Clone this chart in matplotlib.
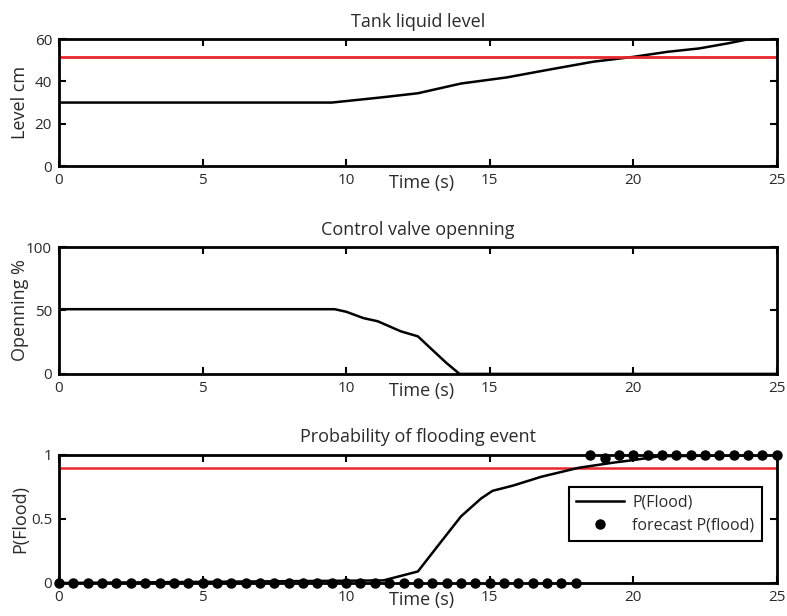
import matplotlib.pyplot as plt

plt.rcParams['font.family'] = ['Open Sans', 'DejaVu Sans']

# tank level (cm)
level_t = [0, 9.5, 11.2, 12.5, 14.0, 15.6, 17.0, 18.6, 20.0, 21.2, 22.3, 23.3, 24.0, 25]
level_v = [30, 30, 32.4, 34.4, 39.0, 41.9, 45.4, 49.3, 51.6, 54.0, 55.6, 58.0, 59.9, 60]
level_limit = 51.5

# control valve opening (%)
valve_t = [0, 9.6, 10.0, 10.6, 11.1, 11.9, 12.5, 13.0, 13.5, 13.95, 25]
valve_v = [51, 51, 49, 44, 41.5, 33.6, 29.6, 19, 8.5, 0, 0]

# probability of flooding
prob_t = [0, 11.3, 12.5, 13.3, 14.0, 14.7, 15.1, 15.8, 16.8, 18.1, 19.3, 20.0, 20.9, 25]
prob_v = [0, 0.02, 0.09, 0.32, 0.52, 0.66, 0.72, 0.76, 0.83, 0.90, 0.94, 0.96, 0.99, 1.0]
prob_limit = 0.9

forecast_t = [0, 0.5, 1, 1.5, 2, 2.5, 3, 3.5, 4, 4.5, 5, 5.5, 6, 6.5, 7, 7.5, 8, 8.5,
              9, 9.5, 10, 10.5, 11, 11.5, 12, 12.5, 13, 13.5, 14, 14.5, 15, 15.5,
              16, 16.5, 17, 17.5, 18,
              18.5, 19, 19.5, 20, 20.5, 21, 21.5, 22, 22.5, 23, 23.5, 24, 24.5, 25]
forecast_p = [0, 0, 0, 0, 0, 0, 0, 0, 0, 0, 0, 0, 0, 0, 0, 0, 0, 0,
              0, 0, 0, 0, 0, 0, 0, 0, 0, 0, 0, 0, 0, 0,
              0, 0, 0, 0, 0,
              1, 0.98, 1, 1, 1, 1, 1, 1, 1, 1, 1, 1, 1, 1]

fig = plt.figure(figsize=(7.87, 6.16), dpi=100)
left, width = 0.075, 0.912
ax1 = fig.add_axes([left, 0.7305, width, 0.206])
ax2 = fig.add_axes([left, 0.393, width, 0.206])
ax3 = fig.add_axes([left, 0.0536, width, 0.2078])


def style(ax, title, ylabel):
    ax.set_xlim(0, 25)
    ax.set_xticks([0, 5, 10, 15, 20, 25])
    ax.set_title(title, fontsize=13, color='#2a2a2a', pad=9)
    ax.set_ylabel(ylabel, fontsize=13, color='#2a2a2a')
    ax.yaxis.set_label_coords(-0.042, 0.5)
    ax.set_xlabel('Time (s)', fontsize=13, color='#2a2a2a')
    ax.xaxis.set_label_coords(0.505, -0.06)
    ax.tick_params(direction='in', top=True, right=True, length=5, width=1.5,
                   labelsize=11, colors='black', labelcolor='#2a2a2a', pad=5)
    for sp in ax.spines.values():
        sp.set_linewidth(2)


ax1.plot(level_t, level_v, color='black', lw=1.8)
ax1.axhline(level_limit, color='#e8262b', lw=2)
ax1.set_ylim(0, 60)
ax1.set_yticks([0, 20, 40, 60])
style(ax1, 'Tank liquid level', 'Level cm')

ax2.plot(valve_t, valve_v, color='black', lw=1.8)
ax2.set_ylim(0, 100)
ax2.set_yticks([0, 50, 100])
style(ax2, 'Control valve openning', 'Openning %')

ax3.axhline(prob_limit, color='#e8262b', lw=1.8)
ax3.plot(prob_t, prob_v, color='black', lw=1.8, label='P(Flood)')
ax3.plot(forecast_t, forecast_p, 'o', color='black', ms=6.5, clip_on=False,
         label='forecast P(flood)')
ax3.set_ylim(0, 1)
ax3.set_yticks([0, 0.5, 1])
ax3.set_yticklabels(['0', '0.5', '1'])
style(ax3, 'Probability of flooding event', 'P(Flood)')
leg = ax3.legend(loc='center right', bbox_to_anchor=(0.979, 0.54), fontsize=11.5,
                 fancybox=False, framealpha=1, edgecolor='black',
                 handlelength=3.0, handletextpad=0.5, borderpad=0.45,
                 labelspacing=0.45, borderaxespad=0)
leg.get_frame().set_linewidth(1.5)
for t in leg.get_texts():
    t.set_color('#2a2a2a')

fig.savefig('out.png', dpi=100)
